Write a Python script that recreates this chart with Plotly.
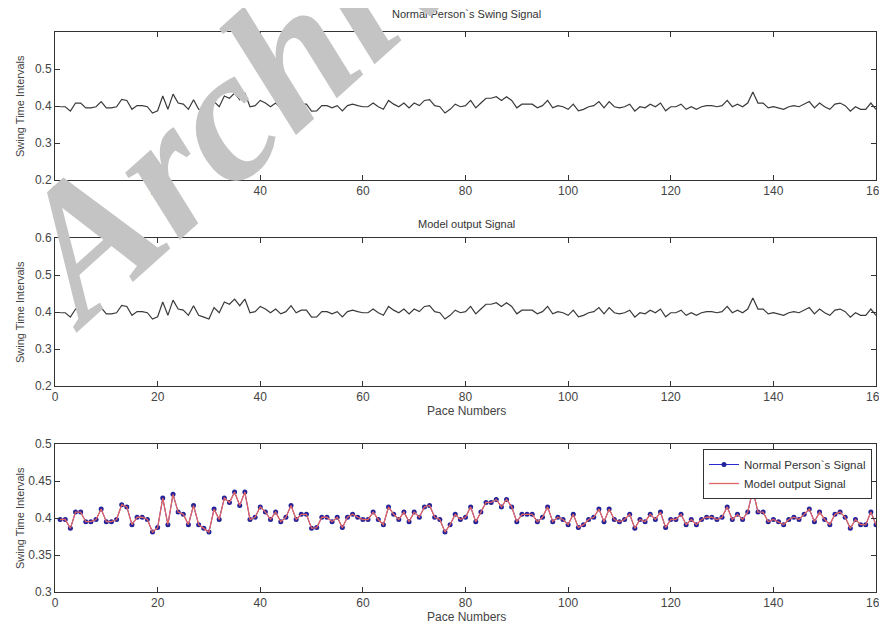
import plotly.graph_objects as go

# ---------------- data ----------------
pace_numbers = list(range(1, 161))

normal_signal = [
    0.398, 0.398, 0.386, 0.408, 0.408, 0.395, 0.395, 0.398, 0.412, 0.395,
    0.395, 0.398, 0.418, 0.415, 0.391, 0.401, 0.401, 0.398, 0.381, 0.387,
    0.427, 0.391, 0.432, 0.408, 0.405, 0.391, 0.417, 0.391, 0.386, 0.381,
    0.412, 0.398, 0.427, 0.421, 0.435, 0.417, 0.435, 0.398, 0.401, 0.415,
    0.408, 0.398, 0.408, 0.395, 0.401, 0.417, 0.398, 0.405, 0.405, 0.386,
    0.387, 0.401, 0.401, 0.395, 0.401, 0.387, 0.401, 0.405, 0.401, 0.398,
    0.398, 0.408, 0.398, 0.391, 0.415, 0.405, 0.398, 0.408, 0.395, 0.408,
    0.401, 0.415, 0.417, 0.401, 0.398, 0.381, 0.391, 0.405, 0.398, 0.401,
    0.415, 0.395, 0.408, 0.421, 0.421, 0.425, 0.415, 0.425, 0.415, 0.395,
    0.405, 0.405, 0.405, 0.395, 0.401, 0.415, 0.395, 0.401, 0.398, 0.391,
    0.405, 0.387, 0.391, 0.398, 0.401, 0.412, 0.395, 0.412, 0.398, 0.395,
    0.398, 0.405, 0.386, 0.398, 0.395, 0.405, 0.398, 0.408, 0.387, 0.398,
    0.398, 0.405, 0.391, 0.398, 0.391, 0.398, 0.401, 0.401, 0.398, 0.401,
    0.415, 0.398, 0.405, 0.398, 0.408, 0.438, 0.408, 0.408, 0.395, 0.398,
    0.395, 0.391, 0.398, 0.401, 0.398, 0.405, 0.412, 0.395, 0.408, 0.398,
    0.391, 0.405, 0.408, 0.401, 0.386, 0.398, 0.391, 0.391, 0.408, 0.391,
]
model_output = list(normal_signal)

x_ticks = [0, 20, 40, 60, 80, 100, 120, 140, 160]
y_ticks_top = [0.2, 0.3, 0.4, 0.5]
y_ticks_mid = [0.2, 0.3, 0.4, 0.5, 0.6]
y_ticks_bot = [0.3, 0.35, 0.4, 0.45, 0.5]

titles = ["Normal Person`s Swing Signal", "Model output Signal"]
y_title = "Swing Time Intervals"
x_title = "Pace Numbers"
legend_names = ["Normal Person`s Signal", "Model output Signal"]

# ---------------- figure ----------------
# the page body has an 8px margin, so the figure starts at (8, 8) of the window
OFF = 8
W, H = 887 - OFF, 626 - OFF
FONT = "Liberation Sans, Arial, sans-serif"

def py(p):  # window pixel -> paper y
    return 1 - (p - OFF) / H

def px(p):  # window pixel -> paper x
    return (p - OFF) / W

x_dom = [px(55), px(876)]
panels = [(32, 180), (238, 386), (444, 592)]

fig = go.Figure()

fig.add_trace(go.Scatter(x=pace_numbers, y=normal_signal, mode="lines",
                         line=dict(color="#3a3a3a", width=1.2),
                         xaxis="x", yaxis="y", showlegend=False))
fig.add_trace(go.Scatter(x=pace_numbers, y=model_output, mode="lines",
                         line=dict(color="#3a3a3a", width=1.2),
                         xaxis="x2", yaxis="y2", showlegend=False))
fig.add_trace(go.Scatter(x=pace_numbers, y=normal_signal, mode="lines+markers",
                         name=legend_names[0],
                         line=dict(color="#2a2ad0", width=1),
                         marker=dict(color="#22229a", size=5),
                         xaxis="x3", yaxis="y3"))
fig.add_trace(go.Scatter(x=pace_numbers, y=model_output, mode="lines",
                         name=legend_names[1],
                         line=dict(color="#e06464", width=1.3),
                         xaxis="x3", yaxis="y3"))

axis_common = dict(showline=True, linecolor="#333333", linewidth=1, mirror="ticks",
                   ticks="inside", ticklen=5, tickcolor="#333333", showgrid=False,
                   zeroline=False, automargin=False, ticklabeloverflow="allow",
                   tickfont=dict(family=FONT, size=12, color="#444444"))

layout = dict(
    width=W, height=H,
    margin=dict(l=0, r=0, t=0, b=0, autoexpand=False),
    paper_bgcolor="white", plot_bgcolor="white",
    font=dict(family=FONT, color="#333333"),
    showlegend=True,
    legend=dict(x=px(872), xanchor="right", y=py(449), yanchor="top",
                bordercolor="#333333", borderwidth=1, bgcolor="white",
                font=dict(family=FONT, size=11.5, color="#333333"),
                tracegroupgap=0),
)

yranges = [(0.2, 0.6), (0.2, 0.6), (0.3, 0.5)]
yticks = [y_ticks_top, y_ticks_mid, y_ticks_bot]
for i, ((top, bot), yr, yt) in enumerate(zip(panels, yranges, yticks)):
    sfx = "" if i == 0 else str(i + 1)
    layout["xaxis" + sfx] = dict(axis_common, domain=x_dom, range=[0, 160],
                                 tickvals=x_ticks, anchor="y" + sfx)
    layout["yaxis" + sfx] = dict(axis_common, domain=[py(bot), py(top)], range=list(yr),
                                 tickvals=yt, anchor="x" + sfx)

def ann(text, x, y, size, color="#333333", angle=0, family=FONT, **kw):
    return dict(text=text, x=px(x), y=py(y), xref="paper", yref="paper",
                showarrow=False, xanchor="center", yanchor="middle", textangle=angle,
                font=dict(family=family, size=size, color=color, **kw))

annotations = [
    ann(titles[0], 466, 14, 11),
    ann(titles[1], 466, 224, 11),
    ann(x_title, 466, 411, 12, "#444444"),
    ann(x_title, 466, 617, 12, "#444444"),
]
for (top, bot) in panels:
    annotations.append(ann(y_title, 20, (top + bot) / 2, 11, "#444444", angle=-90))
# watermark
annotations.append(ann("Archive", 263, 80, 188, "#c4c4c4", angle=-42,
                       family="Liberation Serif, Times New Roman, serif",
                       weight="bold", style="italic"))
layout["annotations"] = annotations

fig.update_layout(**layout)
fig.write_html("out.html")
